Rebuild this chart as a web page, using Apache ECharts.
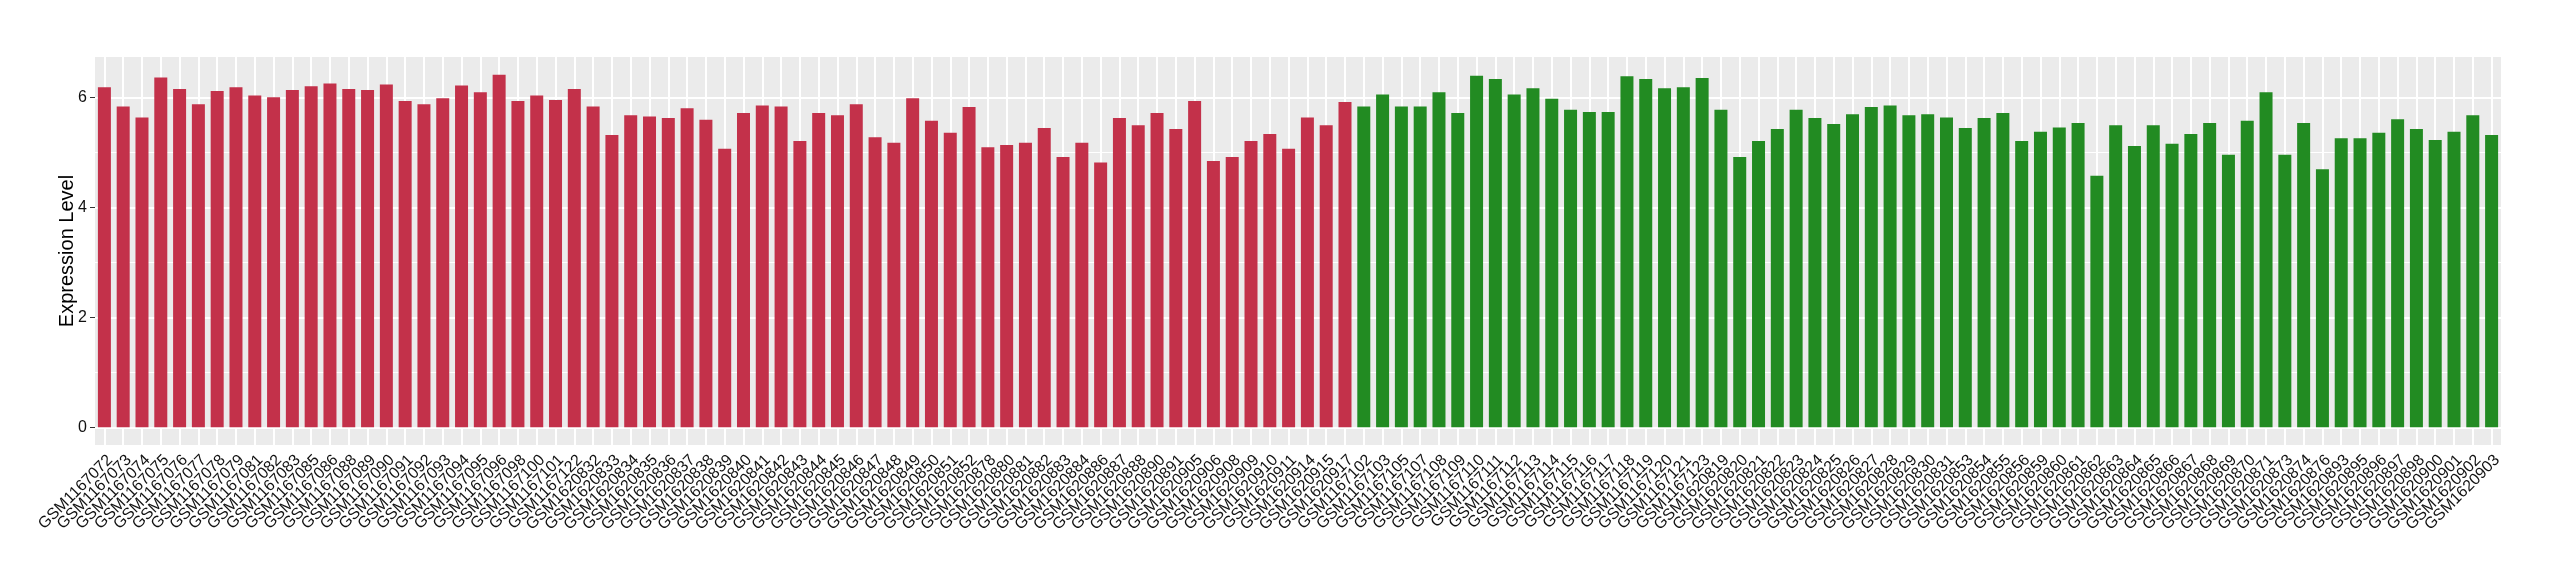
<!DOCTYPE html>
<html>
<head>
<meta charset="utf-8">
<script src="https://cdn.jsdelivr.net/npm/echarts@6/dist/echarts.min.js"></script>
<style>
html,body{margin:0;padding:0;background:#fff;}
#chart{width:2560px;height:580px;}
</style>
</head>
<body>
<div id="chart"></div>
<script>
// ---- data ----
const redSamples = [
  'GSM1167072','GSM1167073','GSM1167074','GSM1167075','GSM1167076','GSM1167077','GSM1167078','GSM1167079',
  'GSM1167081','GSM1167082','GSM1167083','GSM1167085','GSM1167086','GSM1167088','GSM1167089','GSM1167090',
  'GSM1167091','GSM1167092','GSM1167093','GSM1167094','GSM1167095','GSM1167096','GSM1167098','GSM1167100',
  'GSM1167101','GSM1167122','GSM1620832','GSM1620833','GSM1620834','GSM1620835','GSM1620836','GSM1620837',
  'GSM1620838','GSM1620839','GSM1620840','GSM1620841','GSM1620842','GSM1620843','GSM1620844','GSM1620845',
  'GSM1620846','GSM1620847','GSM1620848','GSM1620849','GSM1620850','GSM1620851','GSM1620852','GSM1620878',
  'GSM1620880','GSM1620881','GSM1620882','GSM1620883','GSM1620884','GSM1620886','GSM1620887','GSM1620888',
  'GSM1620890','GSM1620891','GSM1620905','GSM1620906','GSM1620908','GSM1620909','GSM1620910','GSM1620911',
  'GSM1620914','GSM1620915','GSM1620917'
];
const redValues = [
  6.19,5.84,5.64,6.37,6.16,5.88,6.12,6.19,
  6.04,6.01,6.14,6.21,6.26,6.16,6.14,6.24,
  5.94,5.88,5.99,6.22,6.10,6.42,5.94,6.04,
  5.96,6.16,5.84,5.32,5.68,5.66,5.63,5.81,
  5.60,5.07,5.72,5.86,5.84,5.21,5.72,5.68,
  5.88,5.28,5.18,5.99,5.58,5.36,5.83,5.10,
  5.14,5.18,5.45,4.92,5.18,4.82,5.63,5.50,
  5.72,5.43,5.94,4.85,4.92,5.21,5.34,5.07,
  5.64,5.50,5.92
];
const greenSamples = [
  'GSM1167102','GSM1167103','GSM1167105','GSM1167107','GSM1167108','GSM1167109','GSM1167110','GSM1167111',
  'GSM1167112','GSM1167113','GSM1167114','GSM1167115','GSM1167116','GSM1167117','GSM1167118','GSM1167119',
  'GSM1167120','GSM1167121','GSM1167123','GSM1620819','GSM1620820','GSM1620821','GSM1620822','GSM1620823',
  'GSM1620824','GSM1620825','GSM1620826','GSM1620827','GSM1620828','GSM1620829','GSM1620830','GSM1620831',
  'GSM1620853','GSM1620854','GSM1620855','GSM1620856','GSM1620859','GSM1620860','GSM1620861','GSM1620862',
  'GSM1620863','GSM1620864','GSM1620865','GSM1620866','GSM1620867','GSM1620868','GSM1620869','GSM1620870',
  'GSM1620871','GSM1620873','GSM1620874','GSM1620876','GSM1620893','GSM1620895','GSM1620896','GSM1620897',
  'GSM1620898','GSM1620900','GSM1620901','GSM1620902','GSM1620903'
];
const greenValues = [
  5.84,6.06,5.84,5.84,6.10,5.72,6.40,6.34,
  6.06,6.17,5.98,5.78,5.74,5.74,6.39,6.34,
  6.17,6.19,6.36,5.78,4.92,5.21,5.43,5.78,
  5.63,5.52,5.70,5.83,5.86,5.68,5.70,5.64,
  5.45,5.63,5.72,5.21,5.38,5.46,5.54,4.58,
  5.50,5.12,5.50,5.16,5.34,5.54,4.96,5.58,
  6.10,4.96,5.54,4.70,5.26,5.26,5.36,5.61,
  5.43,5.23,5.38,5.68,5.32
];
const yTickValues = [0, 2, 4, 6];
const yMinorValues = [1, 3, 5];
const yAxisTitle = 'Expression Level';

// ---- build ----
const RED = '#C3314A', GREEN = '#228B22';
const categories = redSamples.concat(greenSamples);
const barData = redValues.map(v => ({ value: v, itemStyle: { color: RED } }))
  .concat(greenValues.map(v => ({ value: v, itemStyle: { color: GREEN } })));

const allVals = redValues.concat(greenValues);
const vmax = Math.max(...allVals);
const pad = vmax * 0.05;

const gridLines = [];
yTickValues.forEach(v => gridLines.push({ yAxis: v, lineStyle: { width: 2 } }));
yMinorValues.forEach(v => gridLines.push({ yAxis: v, lineStyle: { width: 1 } }));
categories.forEach(c => gridLines.push({ xAxis: c, lineStyle: { width: 2 } }));

const FONT = '"Liberation Sans", Arial, Helvetica, sans-serif';
const chart = echarts.init(document.getElementById('chart'), null, { renderer: 'canvas' });
chart.setOption({
  animation: false,
  grid: {
    left: 95, right: 59, top: 57, bottom: 135,
    show: true, backgroundColor: '#EBEBEB', borderWidth: 0
  },
  xAxis: {
    type: 'category',
    data: categories,
    boundaryGap: true,
    axisLine: { show: false },
    splitLine: { show: false },
    axisTick: { show: true, alignWithLabel: true, interval: 0, length: 5, lineStyle: { color: '#333333', width: 1 } },
    axisLabel: {
      interval: 0, rotate: 45, margin: 7,
      align: 'right', verticalAlign: 'top',
      fontFamily: FONT, fontSize: 16, color: '#111111'
    }
  },
  yAxis: {
    type: 'value',
    min: -pad, max: vmax + pad,
    name: yAxisTitle, nameLocation: 'middle', nameGap: 18, nameMoveOverlap: false,
    nameTextStyle: { fontFamily: FONT, fontSize: 20, color: '#000' },
    axisLine: { show: false },
    splitLine: { show: false },
    axisTick: { show: true, customValues: yTickValues, length: 5, lineStyle: { color: '#333333', width: 1 } },
    axisLabel: { customValues: yTickValues, margin: 8, fontFamily: FONT, fontSize: 16, color: '#111111' }
  },
  series: [{
    type: 'bar',
    data: barData,
    barWidth: 13,
    z: 2,
    markLine: {
      silent: true, symbol: 'none', z: 1,
      label: { show: false },
      lineStyle: { color: '#FFFFFF', type: 'solid', width: 2 },
      emphasis: { disabled: true },
      data: gridLines
    }
  }]
});
</script>
</body>
</html>
